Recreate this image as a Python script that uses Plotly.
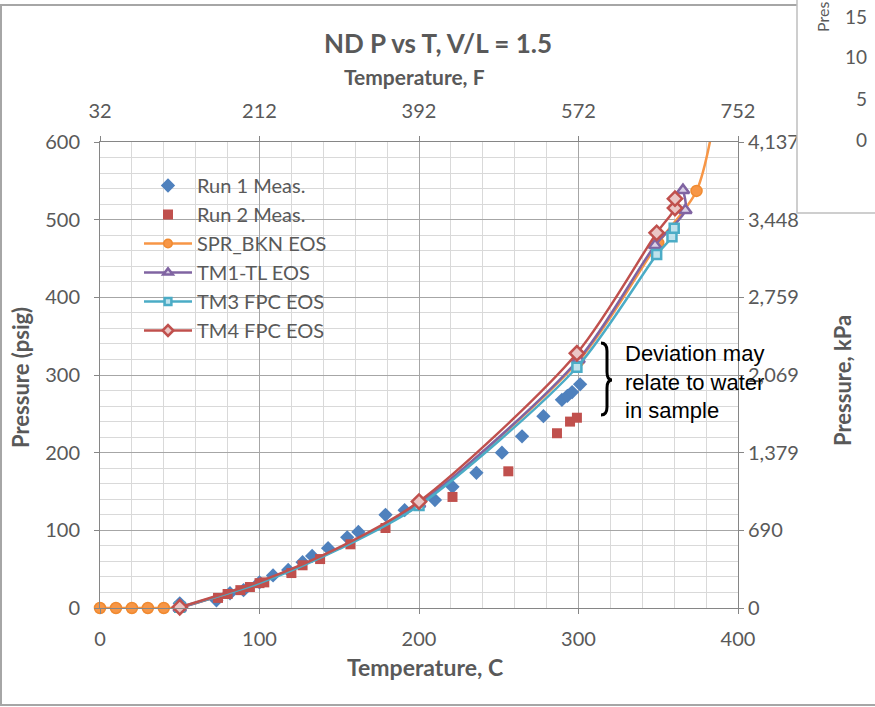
import plotly.graph_objects as go

# ---------------- data ----------------
run1_T = [50, 73, 81.5, 90, 100, 108.5, 118, 127, 133, 143, 155, 162, 179, 191, 210,
          221, 236, 252, 264.6, 278, 289.6, 293, 296, 301]
run1_P = [6, 10, 19, 23, 33, 42, 49, 59, 67, 77, 91, 98, 120, 126, 139,
          156, 174, 200, 221, 247, 268, 273, 278, 288]

run2_T = [74, 80, 88, 94, 100, 103, 120, 127, 138, 157, 179, 221, 256, 286.5, 294.7, 299]
run2_P = [13, 18, 23, 27, 32, 33, 45, 55, 63, 82, 103, 143, 176, 225, 240, 245]

spr_T = [0, 10, 20, 30, 40, 50, 100, 150, 200, 300, 350, 374, 386]
spr_P = [0, 0, 0, 0, 0, 1, 33, 77, 134, 318, 470, 537, 640]

tm1_T = [50, 100, 150, 200, 300, 348, 367, 365.5]
tm1_P = [0, 33, 77, 134, 320, 467, 512, 538]

tm3_T = [50, 100, 150, 200, 299, 349, 358.6, 360]
tm3_P = [1, 32, 76, 132, 310, 455, 478, 489]

tm4_T = [50, 100, 150, 200, 299, 349, 360.5, 360.5]
tm4_P = [1, 34, 78, 137, 328, 483, 515, 527]

x_ticks_C = [0, 100, 200, 300, 400]
x_ticks_F = [32, 212, 392, 572, 752]
y_ticks_psig = [0, 100, 200, 300, 400, 500, 600]
y_ticks_kpa_text = ["0", "690", "1,379", "2,069", "2,759", "3,448", "4,137"]
inset_ticks = ["15", "10", "5", "0"]

PSI_TO_KPA = 6.894757
HIDDEN_MARKER_T = (100, 150)   # EOS points drawn without a visible marker
Y_MAX = 600

# ---------------- style ----------------
FONT = "Lato, Carlito, 'Open Sans', sans-serif"
GRAY_TXT = "#595959"
AX = "#868686"
BLUE = "#4F81BD"
RED = "#C0504D"
ORANGE = "#F79646"
PURPLE = "#8064A2"
TEAL = "#4BACC6"

W, H = 875, 707
L, R, T, B = 100, 738, 142, 608  # plot area in px


def px(x):
    return (x - L) / (R - L)


def py(y):
    return (B - y) / (B - T)


def sizes(ts, ps, s):
    return [0 if (t in HIDDEN_MARKER_T or p > Y_MAX) else s for t, p in zip(ts, ps)]


fig = go.Figure()

fig.add_trace(go.Scatter(x=run1_T, y=run1_P, mode="markers", name="Run 1 Meas.",
                         legendgroup="a", cliponaxis=False,
                         marker=dict(symbol="diamond", size=11, color=BLUE, opacity=1)))
fig.add_trace(go.Scatter(x=run2_T, y=run2_P, mode="markers", name="Run 2 Meas.",
                         legendgroup="b", cliponaxis=False,
                         marker=dict(symbol="square", size=10, color=RED, opacity=1)))
fig.add_trace(go.Scatter(x=spr_T, y=spr_P, mode="lines+markers", name="SPR_BKN EOS",
                         legendgroup="c", cliponaxis=False,
                         line=dict(color=ORANGE, width=2.5, shape="spline", smoothing=0.8),
                         marker=dict(symbol="circle", size=sizes(spr_T, spr_P, 11), color=ORANGE,
                                     opacity=1, line=dict(color="#F08A30", width=1.5))))
fig.add_trace(go.Scatter(x=tm1_T, y=tm1_P, mode="lines+markers", name="TM1-TL EOS",
                         legendgroup="d", cliponaxis=False,
                         line=dict(color=PURPLE, width=2.5, shape="spline", smoothing=0.8),
                         marker=dict(symbol="triangle-up", size=sizes(tm1_T, tm1_P, 11), color="#D9D0E6",
                                     opacity=1, line=dict(color=PURPLE, width=2.5))))
fig.add_trace(go.Scatter(x=tm3_T, y=tm3_P, mode="lines+markers", name="TM3 FPC EOS",
                         legendgroup="e", cliponaxis=False,
                         line=dict(color=TEAL, width=2.5, shape="spline", smoothing=0.8),
                         marker=dict(symbol="square", size=sizes(tm3_T, tm3_P, 9), color="#BFE2EC",
                                     opacity=1, line=dict(color=TEAL, width=2.5))))
fig.add_trace(go.Scatter(x=tm4_T, y=tm4_P, mode="lines+markers", name="TM4 FPC EOS",
                         legendgroup="f", cliponaxis=False,
                         line=dict(color=RED, width=2.5, shape="spline", smoothing=0.8),
                         marker=dict(symbol="diamond", size=sizes(tm4_T, tm4_P, 11), color="#EBC6C5",
                                     opacity=1, line=dict(color=RED, width=2.5))))

tickfont = dict(family=FONT, size=20, color=GRAY_TXT)
axis_common = dict(showline=True, linecolor=AX, linewidth=1, ticks="outside",
                   ticklen=5, tickcolor=AX, zeroline=False, tickfont=tickfont)

fig.update_layout(
    width=W, height=H,
    margin=dict(l=L, r=W - R, t=T, b=H - B),
    paper_bgcolor="white", plot_bgcolor="white",
    showlegend=True,
    legend=dict(x=px(139), y=py(166), xanchor="left", yanchor="top",
                bgcolor="rgba(255,255,255,0)", borderwidth=0, tracegroupgap=0,
                font=dict(family=FONT, size=20, color=GRAY_TXT),
                itemwidth=48),
    title=dict(text="ND P vs T, V/L = 1.5", x=px(438), xref="paper",
               y=1 - 44 / H, yanchor="middle", xanchor="center",
               font=dict(family=FONT, size=26, color=GRAY_TXT, weight="bold")),
    xaxis=dict(range=[0, 400], tickvals=x_ticks_C, showgrid=True,
               gridcolor="#A6A6A6", gridwidth=1, ticklabelstandoff=8,
               minor=dict(dtick=20, showgrid=True, gridcolor="#D9D9D9", ticks=""),
               **axis_common),
    xaxis2=dict(range=[32, 752], tickvals=x_ticks_F, overlaying="x", side="top",
                anchor="y", showgrid=False, ticklabelstandoff=10, **axis_common),
    yaxis=dict(range=[0, Y_MAX], tickvals=y_ticks_psig, showgrid=True,
               gridcolor="#A6A6A6", gridwidth=1, ticklabelstandoff=10,
               minor=dict(dtick=20, showgrid=True, gridcolor="#D9D9D9", ticks=""),
               **axis_common),
    yaxis2=dict(range=[0, Y_MAX * PSI_TO_KPA],
                tickvals=[v * PSI_TO_KPA for v in y_ticks_psig],
                ticktext=y_ticks_kpa_text, overlaying="y", side="right",
                anchor="x", showgrid=False, **axis_common),
)

# dummy invisible traces so the secondary axes render
fig.add_trace(go.Scatter(x=[32], y=[0], xaxis="x2", yaxis="y", mode="markers",
                         marker=dict(opacity=0), showlegend=False, hoverinfo="skip"))
fig.add_trace(go.Scatter(x=[0], y=[0], xaxis="x", yaxis="y2", mode="markers",
                         marker=dict(opacity=0), showlegend=False, hoverinfo="skip"))

# white legend panel hiding gridlines
fig.add_shape(type="rect", x0=px(112), x1=px(347), y0=py(340), y1=py(160),
              xref="paper", yref="paper", fillcolor="white", line=dict(width=0),
              layer="between")

fig.add_annotation(text="Temperature, F", x=px(414), y=py(76), xref="paper", yref="paper",
                   showarrow=False, xanchor="center", yanchor="middle",
                   font=dict(family=FONT, size=21, color=GRAY_TXT, weight="bold"))
fig.add_annotation(text="Temperature, C", x=px(425), y=py(667), xref="paper", yref="paper",
                   showarrow=False, xanchor="center", yanchor="middle",
                   font=dict(family=FONT, size=23, color=GRAY_TXT, weight="bold"))
fig.add_annotation(text="Pressure (psig)", x=px(20), y=py(378), xref="paper", yref="paper",
                   showarrow=False, textangle=-90, xanchor="center", yanchor="middle",
                   font=dict(family=FONT, size=22, color=GRAY_TXT, weight="bold"))
fig.add_annotation(text="Pressure, kPa", x=px(842), y=py(381), xref="paper", yref="paper",
                   showarrow=False, textangle=-90, xanchor="center", yanchor="middle",
                   font=dict(family=FONT, size=22, color=GRAY_TXT, weight="bold"))

# note with brace
fig.add_annotation(text="Deviation may<br>relate to water<br>in sample",
                   x=px(623), y=py(382), xref="paper", yref="paper", showarrow=False,
                   align="left", xanchor="left", yanchor="middle",
                   font=dict(family="Liberation Sans, Arial, sans-serif", size=22, color="black"))


def P(x, y):
    return f"{px(x):.5f},{py(y):.5f}"


brace = (f"M {P(601,343)} Q {P(607,343)} {P(607,351)} L {P(607,372)} "
         f"Q {P(607,380)} {P(612,380)} Q {P(607,380)} {P(607,388)} "
         f"L {P(607,407)} Q {P(607,415)} {P(601,415)}")
fig.add_shape(type="path", path=brace, xref="paper", yref="paper",
              line=dict(color="black", width=3))

# chart outer border
fig.add_shape(type="rect", x0=px(1), x1=px(900), y0=py(705), y1=py(5),
              xref="paper", yref="paper", line=dict(color="#A6A6A6", width=2),
              layer="above")

# partially visible neighbouring chart (top right)
fig.add_shape(type="rect", x0=px(797), x1=px(900), y0=py(213), y1=py(-10),
              xref="paper", yref="paper", fillcolor="white",
              line=dict(color="#BFBFBF", width=1.5), layer="above")
for i, t in enumerate(inset_ticks):
    fig.add_annotation(text=t, x=px(869), y=py(16 + i * 41), xref="paper", yref="paper",
                       showarrow=False, xanchor="right", yanchor="middle",
                       font=dict(family=FONT, size=19, color=GRAY_TXT))
fig.add_annotation(text="Pres", x=px(823), y=py(34), xref="paper", yref="paper",
                   showarrow=False, textangle=-90, xanchor="center", yanchor="bottom",
                   font=dict(family=FONT, size=16, color=GRAY_TXT))

fig.write_html("out.html", post_script="document.body.style.margin='0px';",
               config={"displayModeBar": False})
